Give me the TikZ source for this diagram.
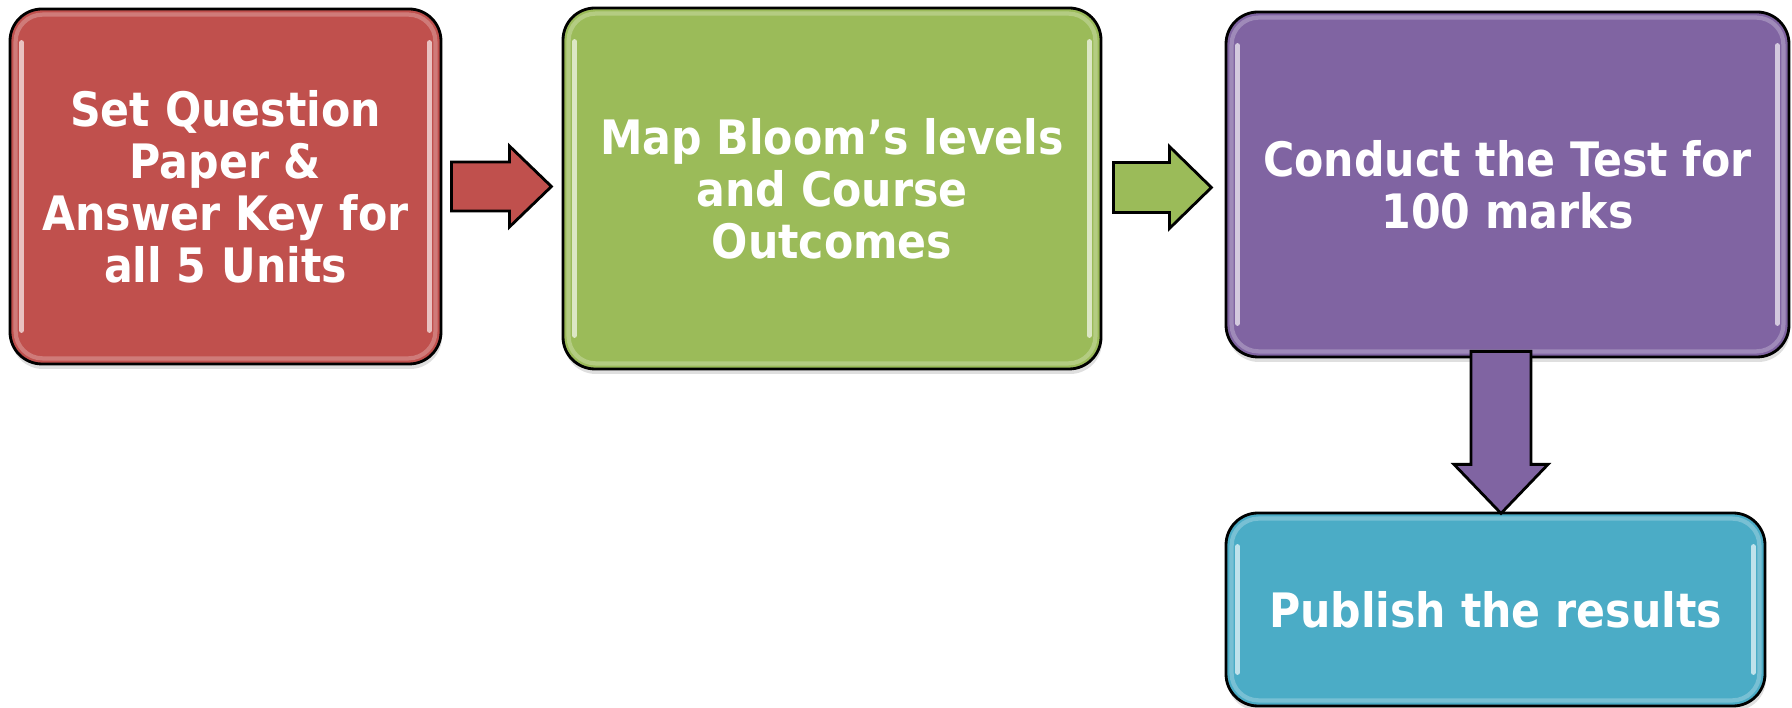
\documentclass[tikz,border=0pt]{standalone}
\usepackage{fontspec}
\newfontfamily\boxfont{DejaVuSansCondensed}[Extension=.ttf,BoldFont=DejaVuSansCondensed-Bold]
\usepackage{xcolor}
\usetikzlibrary{calc,positioning,shadows}
\definecolor{redfill}{HTML}{C0504D}
\definecolor{greenfill}{HTML}{9BBB59}
\definecolor{purplefill}{HTML}{8064A2}
\definecolor{bluefill}{HTML}{4BACC6}
\tikzset{%
	stepbox/.style    = {draw=black, line width=0.8pt, rectangle, rounded corners=0.32cm, text=white, align=center, font=\boxfont\bfseries\fontsize{13.5}{14.8}\selectfont, drop shadow={shadow xshift=0.01cm, shadow yshift=-0.05cm, opacity=0.25}},
	glow/.style       = {draw=white, draw opacity=0.25, line width=1.2pt, rounded corners=0.27cm},
	gloss/.style      = {line width=1.4pt, line cap=round},
	blockarrow/.style = {draw=black, line width=0.8pt, line join=miter},
}

\begin{document}
\begin{tikzpicture}
	\useasboundingbox (0,0) rectangle (17.92,-7.08);
	% boxes
	\node[stepbox, fill=redfill, minimum width=4.31cm, minimum height=3.55cm] (setpaper) at (2.255,-1.865) {Set Question\\Paper \&\\Answer Key for\\all 5 Units};
	\node[stepbox, fill=greenfill, minimum width=5.38cm, minimum height=3.61cm] (mapbloom) at (8.32,-1.885) {Map Bloom’s levels\\and Course\\Outcomes};
	\node[stepbox, fill=purplefill, minimum width=5.63cm, minimum height=3.45cm] (conduct) at (15.075,-1.845) {Conduct the Test for\\100 marks};
	\node[stepbox, fill=bluefill, minimum width=5.39cm, minimum height=1.93cm] (publish) at (14.955,-6.095) {Publish the results};
	% glossy edges
	\foreach \bx/\col in {setpaper/redfill, mapbloom/greenfill, conduct/purplefill, publish/bluefill} {
		\draw[glow] ([shift={(0.07,-0.07)}]\bx.north west) rectangle ([shift={(-0.07,0.07)}]\bx.south east);
		\draw[gloss, draw=\col!35!white] ([shift={(0.13,-0.35)}]\bx.north west) -- ([shift={(0.13,0.35)}]\bx.south west);
		\draw[gloss, draw=\col!35!white] ([shift={(-0.13,-0.35)}]\bx.north east) -- ([shift={(-0.13,0.35)}]\bx.south east);
	}
	% arrows
	\draw[blockarrow, fill=redfill] ($(setpaper.east)+(0.09,0.245)$) -- ++(0.58,0) -- ++(0,0.16) -- ++(0.42,-0.405) -- ++(-0.42,-0.405) -- ++(0,0.16) -- ++(-0.58,0) -- cycle;
	\draw[blockarrow, fill=greenfill] ($(mapbloom.east)+(0.11,0.26)$) -- ++(0.56,0) -- ++(0,0.16) -- ++(0.42,-0.41) -- ++(-0.42,-0.41) -- ++(0,0.16) -- ++(-0.56,0) -- cycle;
	\draw[blockarrow, fill=purplefill] ($(conduct.south)+(-0.365,0.07)$) -- ++(0,-1.13) -- ++(-0.17,0) -- ++(0.47,-0.49) -- ++(0.47,0.49) -- ++(-0.17,0) -- ++(0,1.13) -- cycle;
\end{tikzpicture}
\end{document}
